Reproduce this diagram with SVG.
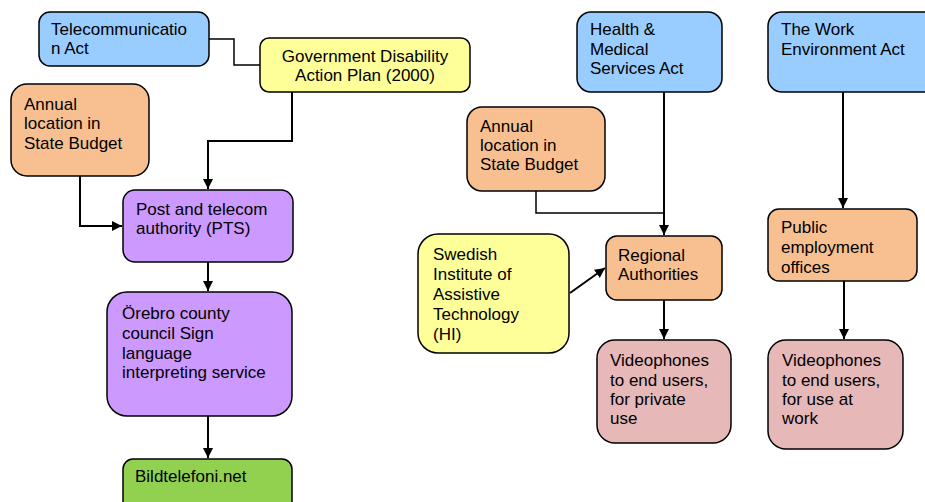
<svg xmlns="http://www.w3.org/2000/svg" width="925" height="502" viewBox="0 0 925 502">
<defs>
<marker id="ah" markerWidth="10" markerHeight="10" refX="10" refY="5" orient="auto" markerUnits="userSpaceOnUse" viewBox="0 0 10 10">
<path d="M0,0 L10,5 L0,10 Z" fill="#000"/>
</marker>
</defs>
<style>
.n rect{stroke:#000;stroke-width:1.5}
.blue{fill:#99ccff}.yel{fill:#ffff99}.ora{fill:#f8c090}.pur{fill:#cc99ff}.grn{fill:#92d050}.pnk{fill:#e6b8b8}
text{font-family:"Liberation Sans",Arial,sans-serif;font-size:17px;fill:#000}
.c path{fill:none;stroke:#000;stroke-width:2}
.c path.t{stroke-width:1.5}
</style>
<g class="c" id="connectors">
<path class="t" d="M209,39 H234 V65 H260"/>
<path d="M292,92 V141 H208 V189" marker-end="url(#ah)"/>
<path d="M80,176 V226 H122" marker-end="url(#ah)"/>
<path d="M208,262 V291" marker-end="url(#ah)"/>
<path d="M208,416 V458" marker-end="url(#ah)"/>
<path class="t" d="M536,191 V213 H664"/>
<path d="M664,92 V235" marker-end="url(#ah)"/>
<path d="M570,293 L605,268" marker-end="url(#ah)"/>
<path d="M664,300 V339" marker-end="url(#ah)"/>
<path d="M843,92 V208" marker-end="url(#ah)"/>
<path d="M844,281 V339" marker-end="url(#ah)"/>
</g>
<g class="n" id="telecom-act"><rect class="blue" x="39" y="12" width="170" height="54" rx="11"/><text x="51" y="35">Telecommunicatio</text><text x="51" y="54">n Act</text></g>
<g class="n" id="gov-plan"><rect class="yel" x="260" y="38" width="210" height="54" rx="9"/><text x="365" y="62" text-anchor="middle">Government Disability</text><text x="365" y="81" text-anchor="middle">Action Plan (2000)</text></g>
<g class="n" id="annual-left"><rect class="ora" x="11" y="84" width="138" height="92" rx="16"/><text x="24" y="110">Annual</text><text x="24" y="129">location in</text><text x="24" y="149">State Budget</text></g>
<g class="n" id="pts"><rect class="pur" x="123" y="190" width="170" height="72" rx="12"/><text x="136" y="215">Post and telecom</text><text x="136" y="234">authority (PTS)</text></g>
<g class="n" id="orebro"><rect class="pur" x="107" y="292" width="185" height="124" rx="20"/><text x="122" y="319">Örebro county</text><text x="122" y="339">council Sign</text><text x="122" y="359">language</text><text x="122" y="378">interpreting service</text></g>
<g class="n" id="bildtelefoni"><rect class="grn" x="123" y="459" width="169" height="60" rx="10"/><text x="135" y="482">Bildtelefoni.net</text></g>
<g class="n" id="health-act"><rect class="blue" x="577" y="12" width="145" height="80" rx="14"/><text x="590" y="35">Health &amp;</text><text x="590" y="55">Medical</text><text x="590" y="74">Services Act</text></g>
<g class="n" id="work-act"><rect class="blue" x="768" y="12" width="170" height="80" rx="14"/><text x="781" y="35">The Work</text><text x="781" y="55">Environment Act</text></g>
<g class="n" id="annual-right"><rect class="ora" x="467" y="107" width="138" height="84" rx="15"/><text x="480" y="132">Annual</text><text x="480" y="151">location in</text><text x="480" y="170">State Budget</text></g>
<g class="n" id="regional"><rect class="ora" x="606" y="236" width="116" height="64" rx="11"/><text x="618" y="261">Regional</text><text x="618" y="280">Authorities</text></g>
<g class="n" id="swedish-institute"><rect class="yel" x="418" y="234" width="151" height="119" rx="20"/><text x="433" y="260">Swedish</text><text x="433" y="280">Institute of</text><text x="433" y="300">Assistive</text><text x="433" y="320">Technology</text><text x="433" y="340">(HI)</text></g>
<g class="n" id="public-employment"><rect class="ora" x="768" y="209" width="149" height="72" rx="11"/><text x="781" y="233">Public</text><text x="781" y="253">employment</text><text x="781" y="273">offices</text></g>
<g class="n" id="videophones-private"><rect class="pnk" x="597" y="340" width="134" height="103" rx="18"/><text x="610" y="366">Videophones</text><text x="610" y="386">to end users,</text><text x="610" y="405">for private</text><text x="610" y="424">use</text></g>
<g class="n" id="videophones-work"><rect class="pnk" x="768" y="340" width="135" height="109" rx="18"/><text x="782" y="366">Videophones</text><text x="782" y="386">to end users,</text><text x="782" y="405">for use at</text><text x="782" y="424">work</text></g>
</svg>
